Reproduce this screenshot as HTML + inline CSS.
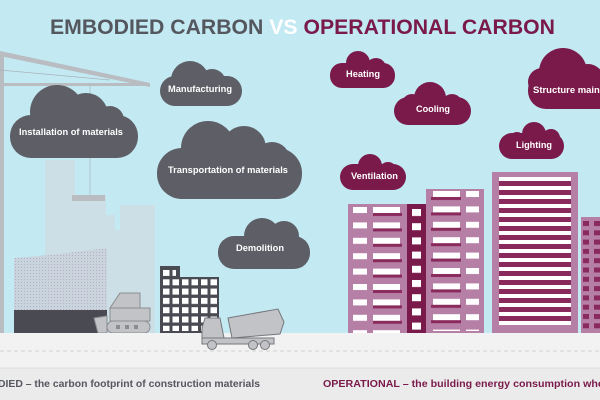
<!DOCTYPE html>
<html><head><meta charset="utf-8"><style>
html,body{margin:0;padding:0;background:#c3e9f3}
svg{display:block}
text{font-family:"Liberation Sans",sans-serif;font-weight:bold}
</style></head><body>
<svg width="600" height="400" viewBox="0 0 600 400" xmlns="http://www.w3.org/2000/svg">
<defs>
<pattern id="winA" x="348" y="207" width="60" height="15.4" patternUnits="userSpaceOnUse">
<rect x="5" y="0" width="14" height="6" fill="#fff"/>
<rect x="25" y="0" width="27" height="6" fill="#fff"/>
<rect x="25" y="6" width="29" height="3" fill="#8a2a5c"/>
</pattern>
<pattern id="winB" x="426" y="191" width="58" height="15.4" patternUnits="userSpaceOnUse">
<rect x="7" y="0" width="27" height="6" fill="#fff"/>
<rect x="5" y="6" width="30" height="3" fill="#8a2a5c"/>
<rect x="40" y="0" width="13" height="6" fill="#fff"/>
</pattern>
<pattern id="winCol" x="407" y="209" width="19" height="14.2" patternUnits="userSpaceOnUse">
<rect x="5" y="0" width="9" height="7" fill="#fff"/>
</pattern>
<pattern id="stripes" x="499" y="177" width="72" height="9" patternUnits="userSpaceOnUse">
<rect x="0" y="0" width="72" height="4" fill="#fff"/>
<rect x="0" y="4" width="72" height="5" fill="#8a2a5c"/>
</pattern>
<pattern id="winD" x="583" y="221" width="11" height="9.3" patternUnits="userSpaceOnUse">
<rect x="0" y="0" width="6" height="5" fill="#8a2a5c"/>
</pattern>
<pattern id="winS" x="163" y="270" width="9.5" height="9.3" patternUnits="userSpaceOnUse">
<rect x="0" y="0" width="6.5" height="6" fill="#fff"/>
</pattern>
<pattern id="mesh" width="3" height="3" patternUnits="userSpaceOnUse">
<rect width="3" height="3" fill="#c9d3dc"/>
<rect width="1" height="1" fill="#b5a7c0"/>
</pattern>
</defs>
<rect width="600" height="400" fill="#c3e9f3"/>
<text x="50" y="34" font-size="21.5" fill="#55575f" textLength="505" lengthAdjust="spacingAndGlyphs">EMBODIED CARBON <tspan fill="#fff">VS</tspan> <tspan fill="#7a1a4a">OPERATIONAL CARBON</tspan></text>

<g fill="#cddfe6">
<rect x="45" y="160" width="30" height="173"/>
<polygon points="45,190 60,165 75,165 75,190"/>
<rect x="72" y="195" width="34" height="138"/>
<rect x="85" y="215" width="30" height="118"/>
<rect x="104" y="230" width="16" height="103"/>
<rect x="120" y="205" width="18" height="128"/>
<rect x="138" y="205" width="17" height="128"/>
</g>
<rect x="0" y="52" width="4" height="281" fill="#b9bcc0"/>
<polygon points="0,51 150,83 150,87 0,56" fill="#b9bcc0"/>
<rect x="0" y="83" width="150" height="3" fill="#b9bcc0"/>
<line x1="0" y1="70" x2="110" y2="80" stroke="#a9b3ba" stroke-width="0.7"/>
<line x1="90" y1="86" x2="90" y2="195" stroke="#a9b3ba" stroke-width="0.7"/>
<rect x="72" y="195" width="33" height="6" fill="#b9bcc0"/>
<polygon points="14,258 50,255 107,248 107,310 14,310" fill="url(#mesh)" opacity="0.9"/>
<rect x="14" y="310" width="93" height="23" fill="#4a4b52"/>
<g fill="#c2c3c6" stroke="#8b8c90" stroke-width="1">
<polygon points="120,293 140,293 140,308 110,308"/>
<rect x="110" y="308" width="40" height="13"/>
<rect x="107" y="321" width="43" height="12" rx="6"/>
<polygon points="94,318 107,316 107,333 98,333"/>
</g>
<g fill="#8b8c90"><rect x="116" y="325" width="4" height="4"/><rect x="125" y="325" width="4" height="4"/><rect x="134" y="325" width="4" height="4"/></g>
<rect x="160" y="266" width="20" height="67" fill="#4a4b52"/>
<rect x="160" y="277" width="59" height="56" fill="#4a4b52"/>
<rect x="163" y="270" width="13" height="6" fill="url(#winS)"/>
<rect x="163" y="279" width="54" height="52" fill="url(#winS)"/>
<rect x="0" y="333" width="600" height="36" fill="#f2f2f2"/>
<line x1="0" y1="351" x2="600" y2="351" stroke="#c8c8c8" stroke-width="0.8" stroke-dasharray="4,3"/>
<rect x="0" y="368" width="600" height="32" fill="#ebebeb"/>
<line x1="0" y1="368" x2="600" y2="368" stroke="#dcdcdc" stroke-width="1"/>
<g fill="#c2c3c6" stroke="#76777b" stroke-width="1">
<polygon points="205,318 220,318 224,338 202,338 202,328"/>
<rect x="202" y="338" width="72" height="6"/>
<polygon points="228,318 278,309 284,322 280,334 232,338"/>
<circle cx="212" cy="345" r="4.5"/><circle cx="253" cy="345" r="4.5"/><circle cx="265" cy="345" r="4.5"/>
</g>
<rect x="348" y="204" width="59" height="129" fill="#b67fa5"/>
<rect x="348" y="204" width="59" height="129" fill="url(#winA)"/>
<rect x="407" y="204" width="19" height="129" fill="#7a1a4a"/>
<rect x="407" y="207" width="19" height="126" fill="url(#winCol)"/>
<rect x="426" y="189" width="58" height="144" fill="#b67fa5"/>
<rect x="426" y="191" width="58" height="140" fill="url(#winB)"/>
<rect x="492" y="172" width="86" height="161" fill="#b67fa5"/>
<rect x="499" y="177" width="72" height="148" fill="url(#stripes)"/>
<rect x="581" y="217" width="19" height="116" fill="#b67fa5"/>
<rect x="583" y="221" width="17" height="110" fill="url(#winD)"/>

<g fill="#5d5e66">
<rect x="10" y="115" width="128" height="43" rx="21"/><circle cx="57" cy="112" r="27"/><circle cx="86" cy="115" r="22"/><circle cx="110" cy="120" r="14"/>
<rect x="160" y="76" width="82" height="30" rx="15"/><circle cx="190" cy="80" r="19"/><circle cx="212" cy="83" r="14"/>
<rect x="157" y="148" width="145" height="51" rx="25"/><circle cx="208" cy="148" r="27"/><circle cx="244" cy="148" r="22"/><circle cx="272" cy="160" r="18"/>
<rect x="218" y="236" width="92" height="33" rx="16"/><circle cx="262" cy="236" r="18"/><circle cx="284" cy="236" r="15"/>
</g>
<g fill="#7a1a4a">
<rect x="330" y="63" width="65" height="25" rx="12"/><circle cx="358" cy="63" r="12"/><circle cx="376" cy="68" r="10"/>
<rect x="394" y="97" width="77" height="28" rx="14"/><circle cx="430" cy="98" r="16"/><circle cx="412" cy="104" r="10"/><circle cx="452" cy="104" r="10"/>
<rect x="528" y="72" width="90" height="37" rx="18"/><circle cx="563" cy="72" r="24"/><circle cx="542" cy="82" r="14"/><circle cx="588" cy="80" r="16"/>
<rect x="499" y="133" width="65" height="26" rx="13"/><circle cx="534" cy="134" r="12"/><circle cx="551" cy="138" r="9"/><circle cx="517" cy="140" r="8"/>
<rect x="340" y="164" width="66" height="26" rx="13"/><circle cx="370" cy="166" r="12"/><circle cx="388" cy="171" r="9"/>
</g>
<g fill="#fff" font-size="9.5">
<text x="19" y="135" textLength="104" lengthAdjust="spacingAndGlyphs">Installation of materials</text>
<text x="168" y="92" textLength="64" lengthAdjust="spacingAndGlyphs">Manufacturing</text>
<text x="168" y="173" textLength="120" lengthAdjust="spacingAndGlyphs">Transportation of materials</text>
<text x="236" y="251" textLength="48" lengthAdjust="spacingAndGlyphs">Demolition</text>
<text x="346" y="77" textLength="34" lengthAdjust="spacingAndGlyphs">Heating</text>
<text x="416" y="112" textLength="34" lengthAdjust="spacingAndGlyphs">Cooling</text>
<text x="533" y="93" textLength="70" lengthAdjust="spacingAndGlyphs">Structure maint</text>
<text x="516" y="148" textLength="36" lengthAdjust="spacingAndGlyphs">Lighting</text>
<text x="351" y="179" textLength="47" lengthAdjust="spacingAndGlyphs">Ventilation</text>
</g>
<text x="-2" y="387" font-size="10.5" fill="#55575f" textLength="262" lengthAdjust="spacingAndGlyphs">DIED – the carbon footprint of construction materials</text>
<text x="323" y="387" font-size="10.5" fill="#7a1a4a" textLength="285" lengthAdjust="spacingAndGlyphs">OPERATIONAL – the building energy consumption wher</text>
</svg>
</body></html>
